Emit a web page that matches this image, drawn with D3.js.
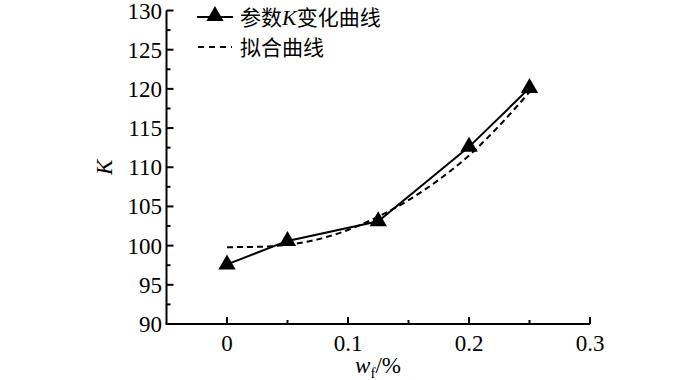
<!DOCTYPE html>
<html>
<head>
<meta charset="utf-8">
<script src="https://cdn.jsdelivr.net/npm/d3@7"></script>
<style>
  body { margin: 0; background: #fff; }
  text { font-family: "Liberation Serif", "Times New Roman", serif; fill: #000; }
  .cjk { font-family: "Noto Sans CJK SC", sans-serif; }
</style>
</head>
<body>
<div id="chart"></div>
<script>
// measured points of K vs w_f
var wf = [0, 0.05, 0.125, 0.2, 0.25];
var kValues = [97.6, 100.6, 103.1, 112.6, 120.1];

// fitted curve
var fitWf = [0, 0.025, 0.05, 0.075, 0.1, 0.125, 0.15, 0.175, 0.2, 0.225, 0.25];
var fitK = [99.8, 99.85, 100.1, 100.8, 102.0, 103.7, 105.8, 108.4, 111.5, 115.3, 119.6];

var xTicks = [0, 0.1, 0.2, 0.3];
var xMinor = [0.05, 0.15, 0.25];
var yTicks = [90, 95, 100, 105, 110, 115, 120, 125, 130];
var yMinor = [92.5, 97.5, 102.5, 107.5, 112.5, 117.5, 122.5, 127.5];

var legendLabels = ['参数', 'K', '变化曲线', '拟合曲线'];

var width = 700, height = 380;

var svg = d3.select('#chart').append('svg')
    .attr('width', width)
    .attr('height', height);

var x = d3.scaleLinear().domain([-0.05, 0.3]).range([166.5, 590]);
var y = d3.scaleLinear().domain([90, 130]).range([324, 10.5]);

// axes lines
var axis = svg.append('g').attr('stroke', '#000').attr('stroke-width', 2).attr('fill', 'none');
axis.append('line').attr('x1', x(-0.05)).attr('x2', x(-0.05)).attr('y1', y(130)).attr('y2', y(90));
axis.append('line').attr('x1', x(-0.05) - 1).attr('x2', x(0.3)).attr('y1', y(90)).attr('y2', y(90));

// x ticks (inward)
axis.selectAll('.xt').data(xTicks).enter().append('line')
    .attr('x1', (d) => x(d)).attr('x2', (d) => x(d))
    .attr('y1', y(90)).attr('y2', y(90) - 7);
axis.selectAll('.xm').data(xMinor).enter().append('line')
    .attr('x1', (d) => x(d)).attr('x2', (d) => x(d))
    .attr('y1', y(90)).attr('y2', y(90) - 4);

// y ticks (inward)
axis.selectAll('.yt').data(yTicks).enter().append('line')
    .attr('x1', x(-0.05)).attr('x2', x(-0.05) + 7)
    .attr('y1', (d) => y(d)).attr('y2', (d) => y(d));
axis.selectAll('.ym').data(yMinor).enter().append('line')
    .attr('x1', x(-0.05)).attr('x2', x(-0.05) + 4)
    .attr('y1', (d) => y(d)).attr('y2', (d) => y(d));

// tick labels
svg.selectAll('.xl').data(xTicks).enter().append('text')
    .attr('x', (d) => x(d)).attr('y', 351)
    .attr('text-anchor', 'middle')
    .style('font-size', '23px')
    .text((d) => d === 0 ? '0' : d3.format('.1f')(d));

svg.selectAll('.yl').data(yTicks).enter().append('text')
    .attr('x', 162).attr('y', (d) => y(d) + 8)
    .attr('text-anchor', 'end')
    .style('font-size', '23px')
    .text((d) => d);

// axis titles
svg.append('text')
    .attr('transform', 'translate(112,' + y(110) + ') rotate(-90)')
    .attr('text-anchor', 'middle')
    .style('font-size', '23px').style('font-style', 'italic')
    .text('K');

var xt = svg.append('text')
    .attr('x', 378).attr('y', 373)
    .attr('text-anchor', 'middle')
    .style('font-size', '23px');
xt.append('tspan').style('font-style', 'italic').text('w');
xt.append('tspan').attr('dy', 5).style('font-size', '15px').text('f');
xt.append('tspan').attr('dy', -5).text('/%');

// fitted dashed curve
var fitLine = d3.line()
    .x((d, i) => x(fitWf[i]))
    .y((d) => y(d))
    .curve(d3.curveMonotoneX);
svg.append('path')
    .attr('d', fitLine(fitK))
    .attr('fill', 'none').attr('stroke', '#000')
    .attr('stroke-width', 2).attr('stroke-dasharray', '6,4');

// measured solid line
var kLine = d3.line()
    .x((d, i) => x(wf[i]))
    .y((d) => y(d));
svg.append('path')
    .attr('d', kLine(kValues))
    .attr('fill', 'none').attr('stroke', '#000')
    .attr('stroke-width', 2);

var tri = d3.symbol().type(d3.symbolTriangle).size(130);
svg.selectAll('.pt').data(kValues).enter().append('path')
    .attr('d', tri)
    .attr('transform', (d, i) => 'translate(' + x(wf[i]) + ',' + y(d) + ')')
    .attr('fill', '#000');

// legend
var lg = svg.append('g');
lg.append('line').attr('x1', 197).attr('x2', 233).attr('y1', 17).attr('y2', 17)
    .attr('stroke', '#000').attr('stroke-width', 2);
lg.append('path').attr('d', tri).attr('transform', 'translate(215,16)').attr('fill', '#000');
var lt = lg.append('text').attr('x', 240).attr('y', 25).style('font-size', '21px');
lt.append('tspan').attr('class', 'cjk').text(legendLabels[0]);
lt.append('tspan').style('font-style', 'italic').style('font-size', '22px').text(legendLabels[1]);
lt.append('tspan').attr('class', 'cjk').text(legendLabels[2]);

lg.append('line').attr('x1', 198).attr('x2', 232).attr('y1', 47).attr('y2', 47)
    .attr('stroke', '#000').attr('stroke-width', 2).attr('stroke-dasharray', '6,5');
lg.append('text').attr('class', 'cjk').attr('x', 240).attr('y', 55)
    .style('font-size', '21px').text(legendLabels[3]);
</script>
</body>
</html>
